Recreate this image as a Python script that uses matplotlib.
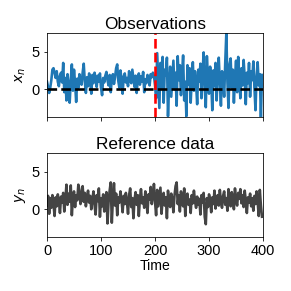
import numpy as np
import matplotlib
matplotlib.use("Agg")
import matplotlib.pyplot as plt

plt.rcParams['font.family'] = ['Liberation Sans', 'DejaVu Sans']
plt.rcParams['font.size'] = 14.5
plt.rcParams['axes.titlesize'] = 17.3
plt.rcParams['axes.labelsize'] = 14

# --- data (one value every 2 time steps) ---
time = np.arange(0, 400, 2)

x_obs = [
    1.0, 0.3, -0.5, 0.2, 1.2, 2.6, 2.8, 2.2, 1.5, 2.4, 1.0, 0.4, 1.8, 2.2, 0.9, 3.5, -0.4, 1.5, -1.5, 2.0,
    0.5, -1.8, 1.2, 3.3, -0.2, 2.6, 0.8, -1.7, 1.4, 0.2, 2.0, 1.1, 0.6, 2.2, 3.4, 1.0, -0.5, 1.6, 0.4, 2.1,
    1.2, -0.6, 1.9, 0.8, 2.2, 1.5, 0.3, 1.8, 1.0, 2.1, 0.2, -0.8, 1.5, 0.9, 1.8, 2.3, 1.2, 0.5, 1.9, -0.4,
    1.4, 2.0, 0.7, 1.6, 2.8, 3.3, 1.1, 0.2, 2.5, 1.3, -0.6, 1.7, 2.1, 0.9, 1.5, 0.4, 2.4, 1.2, 0.8, 2.6,
    1.5, 0.3, 1.8, -0.5, 1.2, 2.1, 0.6, 1.7, 1.0, 2.3, -0.4, 1.3, 0.8, 1.9, 1.4, 0.5, 2.0, 1.6, 2.2, 1.8,
    0.5, -1.2, 4.8, 1.0, -2.5, 3.5, 0.2, 4.3, -1.8, 2.6, 1.8, 4.2, -3.6, 0.5, 3.0, -1.0, 1.5, 3.8, 0.0, 2.2,
    -2.2, 4.4, 1.2, 3.2, -0.8, 2.0, 4.5, -1.5, 1.0, -3.6, 3.2, 0.6, 2.8, -1.8, 1.4, 3.6, -0.2, 2.4, 0.8, -2.0,
    2.6, 1.0, 3.4, -1.2, 2.2, 4.9, 0.3, -2.4, 4.4, 1.5, -0.6, 3.0, 1.2, -2.8, 2.5, 0.4, 3.5, -1.5, 1.8, 4.2,
    0.8, -2.2, 2.4, 1.2, -1.0, 3.6, 7.5, 1.0, -2.5, 3.3, 4.1, 0.2, 2.6, -1.8, 1.5, 3.8, -0.4, 4.3, 1.1, -1.2,
    2.8, 0.5, 3.9, 1.6, -2.0, 2.2, 0.8, 3.5, -1.0, 2.4, 1.2, 3.7, 0.2, -2.8, 1.8, 3.6, 0.5, 2.0, -3.7, 1.9,
]

y_ref = [
    0.5, 1.8, -0.6, 1.5, 0.2, 1.9, 0.8, -0.9, 1.6, 0.4, 2.0, 1.1, -0.5, 1.7, 0.9, 2.2, -0.3, 1.3, 3.3, 0.6,
    2.1, 1.0, 3.2, -0.8, 1.5, 2.4, 0.3, 1.9, 1.2, 3.3, 2.6, 0.7, 1.8, 3.1, 1.0, 2.2, 0.4, 1.6, 2.5, 0.9,
    1.8, 0.0, 1.3, 2.4, 0.6, -0.7, 1.9, 1.1, 2.8, -1.0, 1.5, 0.4, 2.0, -0.3, 1.2, 2.3, -1.9, 1.0, 2.5, 3.6,
    -1.8, 1.4, 3.5, 0.5, 2.1, -0.8, 1.6, 0.9, 2.4, 1.2, -0.4, 1.8, 0.7, 2.2, 1.0, -0.6, 1.9, 2.8, 0.3, 1.5,
    -1.2, 1.3, 2.3, 0.6, 1.9, -0.9, 1.4, 2.7, 0.8, 1.6, 0.2, 2.4, 1.1, -0.5, 2.0, 1.3, 3.0, 0.7, 1.8, 3.4,
    1.0, -0.8, 2.6, 0.4, 1.7, 2.9, -0.6, 1.2, 2.2, 0.5, 1.6, -1.2, 2.5, 1.0, 0.3, 2.1, 1.4, -0.4, 1.8, 3.1,
    3.6, 0.7, 1.9, -0.3, 2.4, 1.2, 0.4, 2.8, -0.9, 1.5, 2.1, 0.6, 1.3, -0.5, 1.9, 0.8, 2.5, 1.1, 0.2, 1.7,
    0.6, 1.4, -0.7, 1.9, 0.9, 2.2, -1.0, -2.0, 1.5, 0.3, 2.0, 1.2, -0.4, 1.6, 0.7, 2.5, 0.1, 1.3, 1.9, 0.5,
    2.6, 1.0, 0.2, 1.8, 2.4, 0.6, 1.5, -0.2, 2.7, 1.1, 0.4, 2.3, 1.6, 0.0, 2.8, 1.2, 0.5, 2.2, 1.4, 2.7,
    0.8, 1.9, 0.3, 2.5, 1.2, -0.5, 1.6, 0.9, 2.1, 0.4, 1.5, -0.2, 1.8, 0.7, 2.4, 1.0, -0.9, 2.6, 0.5, -1.0,
]

change_point = 200
x_ticks = [0, 100, 200, 300, 400]
y_ticks = [0, 5]

# --- figure (72 dpi so that points == pixels) ---
fig = plt.figure(figsize=(291 / 72, 291 / 72), dpi=72)
ax1 = fig.add_axes([0.1615, 0.598, 0.7425, 0.289])
ax2 = fig.add_axes([0.1615, 0.186, 0.7425, 0.287])

ax1.plot(time, x_obs, color='#1f77b4', lw=2.6)
ax1.axhline(0, color='k', ls='--', lw=2.6)
ax1.axvline(change_point, color='red', ls='--', lw=2.6)
ax1.set_title('Observations', pad=4)
ax1.set_ylabel('$x_n$')

ax2.plot(time, y_ref, color='#444444', lw=2.6)
ax2.set_title('Reference data', pad=4)
ax2.set_ylabel('$y_n$')
ax2.set_xlabel('Time', labelpad=1.5)

for ax in (ax1, ax2):
    ax.set_xlim(0, 400)
    ax.set_ylim(-3.7, 7.5)
    ax.set_xticks(x_ticks)
    ax.set_yticks(y_ticks)
ax1.set_xticklabels([])

fig.savefig('out.png', dpi=72)
